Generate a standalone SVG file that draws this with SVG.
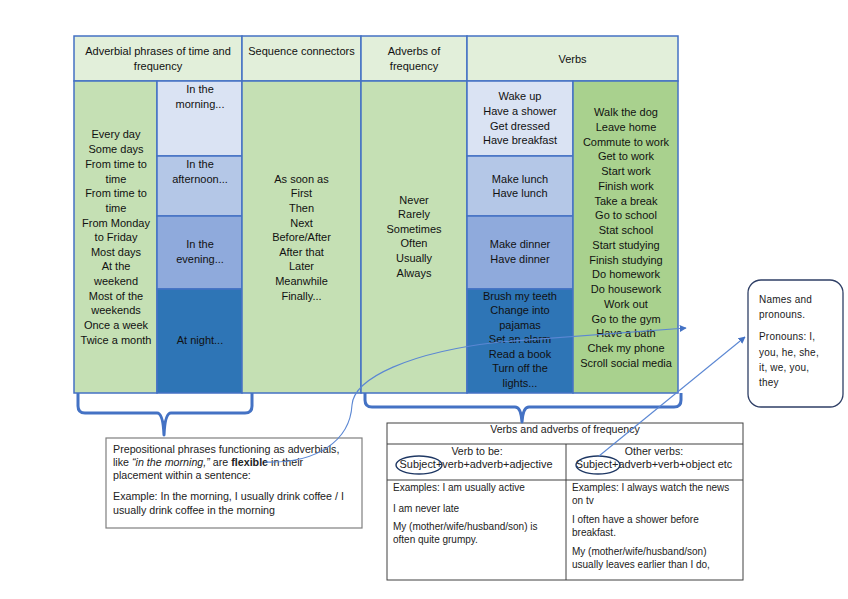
<svg xmlns="http://www.w3.org/2000/svg" width="848" height="599" viewBox="0 0 848 599">
<defs>
<style>
.t{font-family:"Liberation Sans",Arial,sans-serif;font-size:11px;fill:#111;text-anchor:middle}
.s{font-family:"Liberation Sans",Arial,sans-serif;font-size:10px;fill:#222}
.n{font-size:10.7px}
.h{font-size:10.6px}
.sj{font-size:10.9px}
.p{font-size:10px;letter-spacing:0.2px;fill:#1a1a1a}
.sc{text-anchor:middle}
.cell{stroke:#4472C4;stroke-width:1.5}
.hd{fill:#E2EFDA}
.gr{fill:#C5E0B4}
.dg{fill:#A9D18E}
.b1{fill:#DAE3F3}
.b2{fill:#B4C7E7}
.b3{fill:#8FAADC}
.b4{fill:#2E75B6}
.brace{fill:none;stroke:#4472C4;stroke-width:3;stroke-linejoin:round}
.con{fill:none;stroke:#5B87D3;stroke-width:1.1}
</style>
<marker id="ah" viewBox="0 0 10 10" refX="9" refY="5" markerWidth="7" markerHeight="7" orient="auto" markerUnits="userSpaceOnUse">
<path d="M0,0 L10,5 L0,10 z" fill="#4472C4"/>
</marker>
</defs>
<rect width="848" height="599" fill="#fff"/>

<g id="header">
<rect class="cell hd" x="74" y="36" width="168" height="45"/>
<rect class="cell hd" x="242" y="36" width="119" height="45"/>
<rect class="cell hd" x="361" y="36" width="106" height="45"/>
<rect class="cell hd" x="467" y="36" width="211" height="45"/>
<text class="t" x="158" y="55">Adverbial phrases of time and</text>
<text class="t" x="158" y="70">frequency</text>
<text class="t" x="301.5" y="55">Sequence connectors</text>
<text class="t" x="414" y="55">Adverbs of</text>
<text class="t" x="414" y="70">frequency</text>
<text class="t" x="572.5" y="63">Verbs</text>
</g>

<g id="col-frequency-phrases">
<rect class="cell gr" x="74" y="81" width="83" height="312"/>
<text class="t" x="116" y="138">Every day</text>
<text class="t" x="116" y="153">Some days</text>
<text class="t" x="116" y="168">From time to</text>
<text class="t" x="116" y="183">time</text>
<text class="t" x="116" y="197">From time to</text>
<text class="t" x="116" y="212">time</text>
<text class="t" x="116" y="227">From Monday</text>
<text class="t" x="116" y="241">to Friday</text>
<text class="t" x="116" y="256">Most days</text>
<text class="t" x="116" y="270">At the</text>
<text class="t" x="116" y="285">weekend</text>
<text class="t" x="116" y="300">Most of the</text>
<text class="t" x="116" y="314">weekends</text>
<text class="t" x="116" y="329">Once a week</text>
<text class="t" x="116" y="344">Twice a month</text>
</g>

<g id="col-times-of-day">
<rect class="cell b1" x="157" y="81" width="85" height="75"/>
<rect class="cell b2" x="157" y="156" width="85" height="60"/>
<rect class="cell b3" x="157" y="216" width="85" height="73"/>
<rect class="cell b4" x="157" y="289" width="85" height="104"/>
<text class="t" x="200" y="93">In the</text>
<text class="t" x="200" y="108">morning...</text>
<text class="t" x="200" y="168">In the</text>
<text class="t" x="200" y="183">afternoon...</text>
<text class="t" x="200" y="248">In the</text>
<text class="t" x="200" y="263">evening...</text>
<text class="t" x="200" y="344">At night...</text>
</g>

<g id="col-sequence">
<rect class="cell gr" x="242" y="81" width="119" height="312"/>
<text class="t" x="301.5" y="183">As soon as</text>
<text class="t" x="301.5" y="197">First</text>
<text class="t" x="301.5" y="212">Then</text>
<text class="t" x="301.5" y="227">Next</text>
<text class="t" x="301.5" y="241">Before/After</text>
<text class="t" x="301.5" y="256">After that</text>
<text class="t" x="301.5" y="270">Later</text>
<text class="t" x="301.5" y="285">Meanwhile</text>
<text class="t" x="301.5" y="300">Finally...</text>
</g>

<g id="col-adverbs">
<rect class="cell gr" x="361" y="81" width="106" height="312"/>
<text class="t" x="414" y="204">Never</text>
<text class="t" x="414" y="218">Rarely</text>
<text class="t" x="414" y="233">Sometimes</text>
<text class="t" x="414" y="247">Often</text>
<text class="t" x="414" y="262">Usually</text>
<text class="t" x="414" y="277">Always</text>
</g>

<g id="col-verbs-daytime">
<rect class="cell b1" x="467" y="81" width="106" height="75"/>
<rect class="cell b2" x="467" y="156" width="106" height="60"/>
<rect class="cell b3" x="467" y="216" width="106" height="73"/>
<rect class="cell b4" x="467" y="289" width="106" height="104"/>
<text class="t" x="520" y="100">Wake up</text>
<text class="t" x="520" y="115">Have a shower</text>
<text class="t" x="520" y="130">Get dressed</text>
<text class="t" x="520" y="144">Have breakfast</text>
<text class="t" x="520" y="183">Make lunch</text>
<text class="t" x="520" y="197">Have lunch</text>
<text class="t" x="520" y="248">Make dinner</text>
<text class="t" x="520" y="263">Have dinner</text>
<text class="t" x="520" y="300">Brush my teeth</text>
<text class="t" x="520" y="314">Change into</text>
<text class="t" x="520" y="329">pajamas</text>
<text class="t" x="520" y="343">Set an alarm</text>
<text class="t" x="520" y="358">Read a book</text>
<text class="t" x="520" y="372">Turn off the</text>
<text class="t" x="520" y="387">lights...</text>
</g>

<g id="col-verbs-other">
<rect class="cell dg" x="573" y="81" width="105" height="312"/>
<text class="t" x="626" y="116">Walk the dog</text>
<text class="t" x="626" y="130.8">Leave home</text>
<text class="t" x="626" y="145.5">Commute to work</text>
<text class="t" x="626" y="160.3">Get to work</text>
<text class="t" x="626" y="175">Start work</text>
<text class="t" x="626" y="189.8">Finish work</text>
<text class="t" x="626" y="204.6">Take a break</text>
<text class="t" x="626" y="219.3">Go to school</text>
<text class="t" x="626" y="234">Stat school</text>
<text class="t" x="626" y="248.8">Start studying</text>
<text class="t" x="626" y="263.6">Finish studying</text>
<text class="t" x="626" y="278.4">Do homework</text>
<text class="t" x="626" y="293">Do housework</text>
<text class="t" x="626" y="307.8">Work out</text>
<text class="t" x="626" y="322.6">Go to the gym</text>
<text class="t" x="626" y="337.3">Have a bath</text>
<text class="t" x="626" y="352">Chek my phone</text>
<text class="t" x="626" y="367">Scroll social media</text>
</g>

<g id="pronouns-box">
<rect x="748" y="280" width="95" height="127" rx="13" ry="13" fill="#fff" stroke="#2F3F66" stroke-width="1.3"/>
<text class="s p" x="759" y="303">Names and</text>
<text class="s p" x="759" y="318">pronouns.</text>
<text class="s p" x="759" y="340">Pronouns: I,</text>
<text class="s p" x="759" y="356">you, he, she,</text>
<text class="s p" x="759" y="371">it, we, you,</text>
<text class="s p" x="759" y="386">they</text>
</g>

<g id="prepositional-note">
<rect x="106" y="438" width="256" height="90" fill="#fff" stroke="#7F7F7F" stroke-width="1.2"/>
<text class="s n" x="113" y="453">Prepositional phrases functioning as adverbials,</text>
<text class="s n" x="113" y="466">like <tspan font-style="italic">“in the morning,”</tspan> are <tspan font-weight="bold">flexible</tspan> in their</text>
<text class="s n" x="113" y="479">placement within a sentence:</text>
<text class="s n" x="113" y="500">Example: In the morning, I usually drink coffee / I</text>
<text class="s n" x="113" y="514">usually drink coffee in the morning</text>
</g>

<g id="frequency-table">
<rect x="387" y="423" width="356" height="157" fill="#fff" stroke="#404040" stroke-width="1"/>
<line x1="387" y1="444" x2="743" y2="444" stroke="#404040" stroke-width="1"/>
<line x1="387" y1="480" x2="743" y2="480" stroke="#404040" stroke-width="1"/>
<line x1="566" y1="444" x2="566" y2="580" stroke="#404040" stroke-width="1"/>
<text class="s sc h" x="565" y="433">Verbs and adverbs of frequency</text>
<text class="s sc h" x="477" y="455">Verb to be:</text>
<text class="s sc sj" x="476" y="468">Subject+verb+adverb+adjective</text>
<text class="s sc h" x="654" y="455">Other verbs:</text>
<text class="s sc sj" x="654" y="468">Subject+adverb+verb+object etc</text>
<ellipse cx="419" cy="465" rx="23" ry="9" fill="none" stroke="#1F3864" stroke-width="1.4"/>
<ellipse cx="598" cy="465" rx="22" ry="9" fill="none" stroke="#1F3864" stroke-width="1.4"/>
<text class="s" x="393" y="491">Examples: I am usually active</text>
<text class="s" x="393" y="512">I am never late</text>
<text class="s" x="393" y="530">My (mother/wife/husband/son) is</text>
<text class="s" x="393" y="543">often quite grumpy.</text>
<text class="s" x="572" y="491">Examples: I always watch the news</text>
<text class="s" x="572" y="504">on tv</text>
<text class="s" x="572" y="523">I often have a shower before</text>
<text class="s" x="572" y="536">breakfast.</text>
<text class="s" x="572" y="555">My (mother/wife/husband/son)</text>
<text class="s" x="572" y="568">usually leaves earlier than I do,</text>
</g>

<g id="connectors">
<path class="brace" d="M78,393 V406 Q78,413 85,413 H157 Q163,413 164,435 Q165,413 171,413 H245 Q252,413 252,406 V393"/>
<path class="brace" d="M365,393 V400 Q365,407 372,407 H515 Q521,407 522,422 Q523,407 529,407 H674 Q681,407 681,400 V393"/>
<path class="con" d="M264,462 C318,464 350,440 352,405 C354,378 410,352 500,342 L686,328" marker-end="url(#ah)"/>
<path class="con" d="M599,456 L745,337" marker-end="url(#ah)"/>
</g>
</svg>
